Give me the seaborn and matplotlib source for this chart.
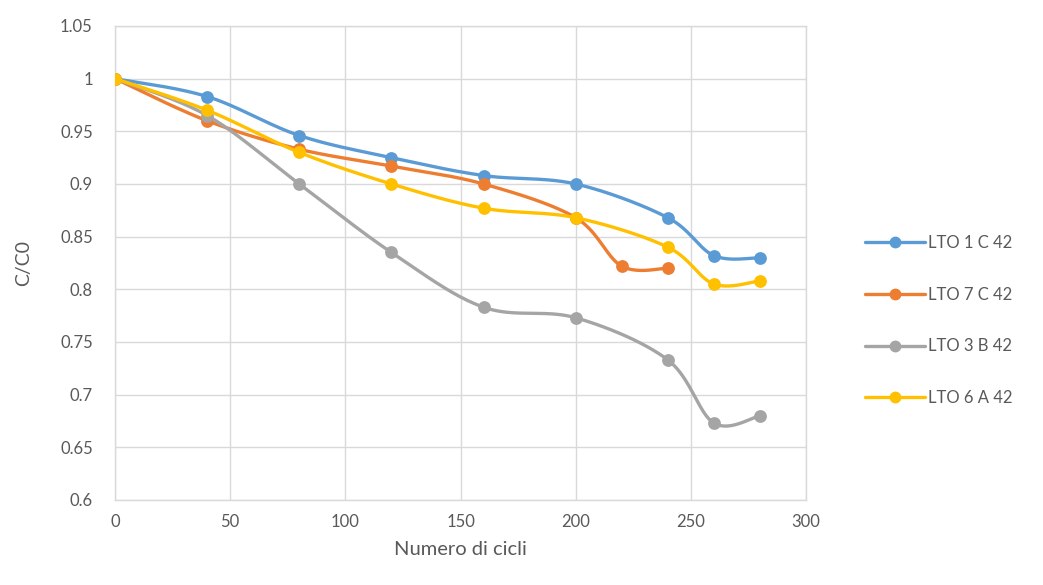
import numpy as np
import pandas as pd
import matplotlib
matplotlib.use("Agg")
import matplotlib.pyplot as plt
import seaborn as sns
from matplotlib.lines import Line2D
from matplotlib.ticker import FuncFormatter

# Cycle counts and normalised capacity C/C0 for each cell
cycles = [0, 40, 80, 120, 160, 200, 240, 260, 280]
cycles_7c = [0, 40, 80, 120, 160, 200, 220, 240]

lto_1c = [1.0, 0.983, 0.946, 0.925, 0.908, 0.900, 0.868, 0.832, 0.830]
lto_7c = [1.0, 0.960, 0.933, 0.917, 0.900, 0.868, 0.822, 0.820]
lto_3b = [1.0, 0.965, 0.900, 0.835, 0.783, 0.773, 0.733, 0.673, 0.680]
lto_6a = [1.0, 0.970, 0.930, 0.900, 0.877, 0.868, 0.840, 0.805, 0.808]

series_names = ["LTO 1 C 42", "LTO 7 C 42", "LTO 3 B 42", "LTO 6 A 42"]
series_x = [cycles, cycles_7c, cycles, cycles]
series_y = [lto_1c, lto_7c, lto_3b, lto_6a]
colors = ["#5B9BD5", "#ED7D31", "#A5A5A5", "#FFC000"]

x_ticks = [0, 50, 100, 150, 200, 250, 300]
y_ticks = [0.6, 0.65, 0.7, 0.75, 0.8, 0.85, 0.9, 0.95, 1.0, 1.05]

TEXT = "#595959"
GRID = "#D9D9D9"

sns.set_theme(style="white")
plt.rcParams["font.family"] = ["Lato", "DejaVu Sans"]

fig = plt.figure(figsize=(10.43, 5.85), dpi=100)
ax = fig.add_axes([0.1103, 0.1453, 0.6625, 0.8103])

# Approximate screen scale (pixels per data unit) so the smoothing
# behaves like a curve drawn on the rendered chart.
SX, SY = 2.303, 1053.0


def smooth_curve(x, y, steps=40):
    """Cardinal (Catmull-Rom style) Bezier smoothing through the points."""
    P = np.column_stack([np.asarray(x, float) * SX, np.asarray(y, float) * SY])
    n = len(P)
    out = [P[0]]
    t = np.linspace(0, 1, steps)[1:, None]
    for i in range(n - 1):
        p0 = P[i - 1] if i > 0 else P[i]
        p1, p2 = P[i], P[i + 1]
        p3 = P[i + 2] if i + 2 < n else P[i + 1]
        c1 = p1 + (p2 - p0) / 6.0
        c2 = p2 - (p3 - p1) / 6.0
        seg = ((1 - t) ** 3) * p1 + 3 * ((1 - t) ** 2) * t * c1 \
            + 3 * (1 - t) * t ** 2 * c2 + t ** 3 * p2
        out.extend(seg)
    out = np.array(out)
    return out[:, 0] / SX, out[:, 1] / SY


for k, (name, xs, ys, col) in enumerate(zip(series_names, series_x, series_y, colors)):
    cx, cy = smooth_curve(xs, ys)
    curve = pd.DataFrame({"x": cx, "y": cy})
    pts = pd.DataFrame({"x": xs, "y": ys})
    sns.lineplot(data=curve, x="x", y="y", sort=False, estimator=None,
                 color=col, linewidth=2.4, ax=ax, zorder=3 + 2 * k)
    sns.scatterplot(data=pts, x="x", y="y", color=col, s=85,
                    edgecolor=col, linewidth=0, ax=ax, zorder=4 + 2 * k)

ax.set_xlim(0, 300)
ax.set_ylim(0.6, 1.05)
ax.set_xticks(x_ticks)
ax.set_yticks(y_ticks)
ax.yaxis.set_major_formatter(FuncFormatter(lambda v, p: f"{v:g}"))
ax.grid(True, color=GRID, linewidth=1.0, zorder=0)
ax.set_axisbelow(True)
for s in ax.spines.values():
    s.set_color(GRID)
    s.set_linewidth(1.0)
ax.tick_params(axis="both", length=0, labelsize=12, labelcolor=TEXT)
ax.tick_params(axis="y", pad=16)
ax.tick_params(axis="x", pad=10)

ax.set_xlabel("Numero di cicli", fontsize=14.5, color=TEXT, labelpad=8)
ax.set_ylabel("C/C0", fontsize=14, color=TEXT, labelpad=20)

handles = [Line2D([0], [0], color=c, linewidth=2.4, marker="o", markersize=7.5)
           for c in colors]
leg = fig.legend(handles, series_names, loc="center left",
                 bbox_to_anchor=(0.823, 0.452), frameon=False,
                 fontsize=12, labelspacing=2.15, handlelength=3.6,
                 handletextpad=0.2, borderaxespad=0)
for t in leg.get_texts():
    t.set_color(TEXT)

fig.savefig("out.png", dpi=100, facecolor="white")
